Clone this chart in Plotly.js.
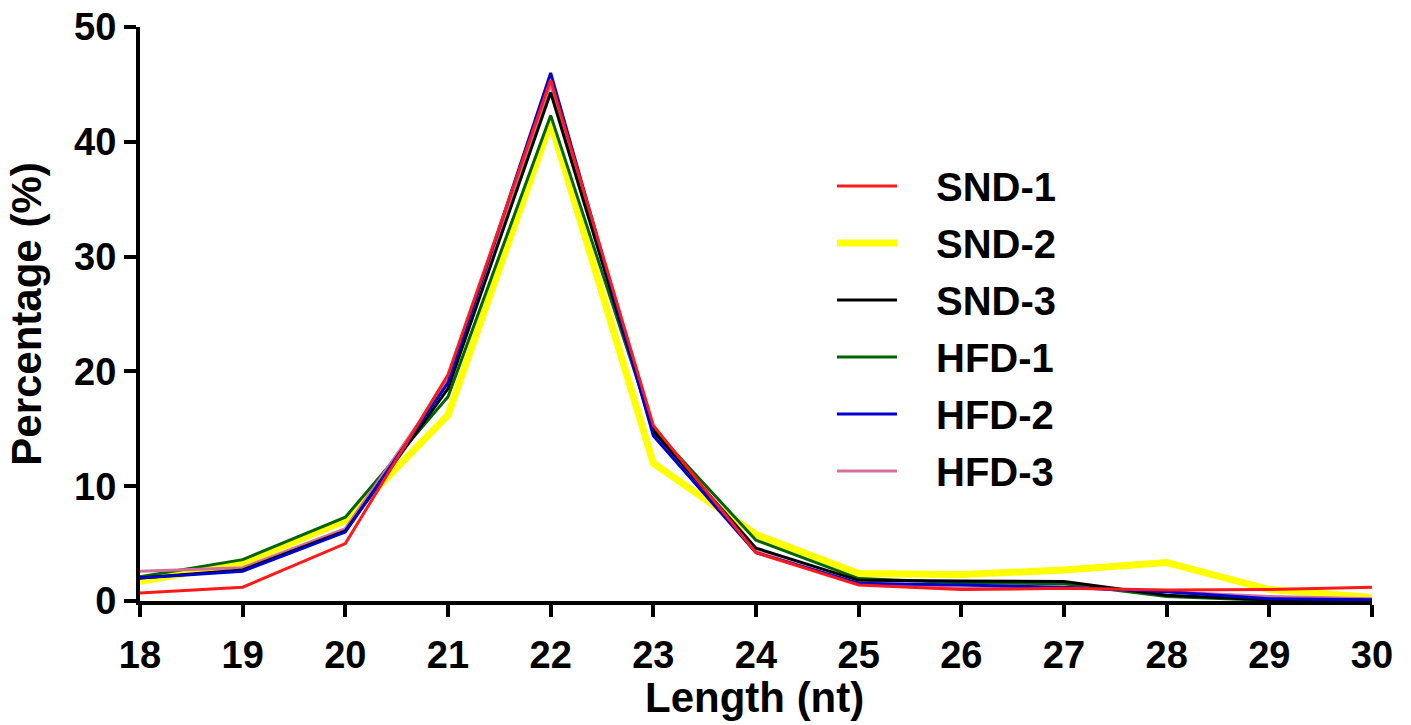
<!DOCTYPE html>
<html>
<head>
<meta charset="utf-8">
<script src="https://cdn.plot.ly/plotly-3.0.1.min.js"></script>
<style>html,body{margin:0;padding:0;background:#fff;}#chart{width:1411px;height:725px;}</style>
</head>
<body>
<div id="chart"></div>
<script>
const lengths = [18,19,20,21,22,23,24,25,26,27,28,29,30];
const SND1 = [0.7,1.2,5.0,19.7,45.4,15.3,4.2,1.4,1.0,1.1,0.95,1.0,1.2];
const SND2 = [1.7,3.3,7.0,16.2,41.7,12.0,5.8,2.4,2.3,2.7,3.35,1.0,0.3];
const SND3 = [2.0,2.7,6.1,18.5,44.3,14.8,4.6,1.8,1.75,1.7,0.5,0.1,0.05];
const HFD1 = [2.1,3.6,7.3,17.8,42.3,15.0,5.3,1.95,1.6,1.5,0.4,0.05,0.05];
const HFD2 = [2.0,2.6,6.0,19.0,46.0,14.4,4.2,1.55,1.4,1.2,0.8,0.2,0.1];
const HFD3 = [2.6,2.9,6.3,19.2,45.0,14.6,4.3,1.5,1.1,1.2,0.8,0.4,0.2];
const seriesNames = ["SND-1","SND-2","SND-3","HFD-1","HFD-2","HFD-3"];
const seriesData = [SND1,SND2,SND3,HFD1,HFD2,HFD3];
const colors = ["#ff1a1a","#ffff00","#000000","#006400","#0000cc","#d36f9b"];
const widths = [3,7,3,3,3,3];
const legendW = [3,7,3,3,3,3];
const xTicks = [18,19,20,21,22,23,24,25,26,27,28,29,30];
const yTicks = [0,10,20,30,40,50];
const xTitle = "Length (nt)";
const yTitle = "Percentage (%)";

const FONT = 'Liberation Sans, Arial, sans-serif';
const drawOrder = [1,3,5,2,4,0];
const traces = drawOrder.map(i => ({
  x: lengths, y: seriesData[i], type: 'scatter', mode: 'lines',
  name: seriesNames[i], line: {color: colors[i], width: widths[i]},
  showlegend: false, hoverinfo: 'skip'
}));

const shapes = [];
const annotations = [];
const L = 140, R = 1372, T = 27, B = 601;
const px = v => (v - L) / (R - L);
const py = v => (B - v) / (B - T);
seriesNames.forEach((n, i) => {
  const yc = 186 + i * 57;
  shapes.push({type:'line', xref:'paper', yref:'paper', x0: px(837), x1: px(897), y0: py(yc), y1: py(yc),
    line:{color: colors[i], width: legendW[i]}});
  annotations.push({xref:'paper', yref:'paper', x: px(934), y: py(yc + 1), xanchor:'left', yanchor:'middle',
    text: '<b>' + n + '</b>', showarrow:false, font:{family: FONT, size:40, color:'#000'}});
});
annotations.push({xref:'paper', yref:'paper', x: px(754), y: py(697), xanchor:'center', yanchor:'middle',
  text: '<b>' + xTitle + '</b>', showarrow:false, font:{family: FONT, size:42, color:'#000'}});

const layout = {
  width: 1411, height: 725,
  margin: {l: L, r: 1411 - R, t: T, b: 725 - B},
  paper_bgcolor: '#fff', plot_bgcolor: '#fff',
  font: {family: FONT, color: '#000'},
  xaxis: {
    range: [18, 30], tickvals: xTicks, ticktext: xTicks.map(String),
    showgrid: false, zeroline: false, showline: true, linecolor: '#000', linewidth: 4,
    ticks: 'outside', ticklen: 12, tickwidth: 4, tickcolor: '#000',
    ticklabelstandoff: 5,
    tickfont: {size: 38, family: FONT, weight: 'bold'},
    fixedrange: true
  },
  yaxis: {
    range: [0, 50], tickvals: yTicks, ticktext: yTicks.map(String),
    showgrid: false, zeroline: false, showline: true, linecolor: '#000', linewidth: 4,
    ticks: 'outside', ticklen: 12, tickwidth: 4, tickcolor: '#000',
    tickfont: {size: 38, family: FONT, weight: 'bold'},
    title: {text: '<b>' + yTitle + '</b>', font: {size: 42}, standoff: 20},
    fixedrange: true
  },
  shapes: shapes,
  annotations: annotations,
  showlegend: false
};
Plotly.newPlot('chart', traces, layout, {displayModeBar: false, staticPlot: true});
</script>
</body>
</html>
